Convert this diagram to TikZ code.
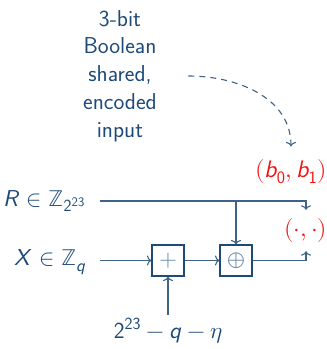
\documentclass[tikz,border=0pt]{standalone}
\usepackage{amsmath}
\usepackage{fontspec}
\usepackage{unicode-math}
\setmathfont{Latin Modern Math}
\usetikzlibrary{arrows.meta,calc}
\DeclareMathSizes{23}{23}{17}{13}
\DeclareMathSizes{24}{24}{17.5}{13.5}
\definecolor{textblue}{RGB}{29,74,120}
\definecolor{lineblue}{RGB}{62,98,136}
\definecolor{lightblue}{RGB}{105,137,170}
\definecolor{outred}{RGB}{245,20,20}
\newcommand{\sv}[1]{\mathsfit{#1}}
\newcommand{\sd}[1]{\mathsf{#1}}
\tikzset{
  every node/.style={font=\sffamily\fontsize{23}{27.75}\selectfont},
  lbl/.style={text=textblue},
  txtblock/.style={text=textblue, align=center},
  outlbl/.style={text=outred, font=\sffamily\fontsize{24}{28}\selectfont},
  ln/.style={draw=lineblue, line width=1.1pt},
  dashln/.style={draw=lineblue, line width=1.1pt, dash pattern=on 6pt off 5pt},
  opbox/.style={draw=textblue, line width=1.2pt, minimum width=32pt, minimum height=31pt, inner sep=0pt, text=lightblue},
  >={To[length=4.5pt,width=10pt]}
}
\begin{document}
\begin{tikzpicture}[x=1pt,y=-1pt]
\useasboundingbox (0,0) rectangle (327,349);
\node[txtblock] (inp) at (120,76) {3-bit\\Boolean\\shared,\\encoded\\input};
\node[outlbl] (bb) at (291,172) {$(\sv{b}_{\sd{0}},\sv{b}_{\sd{1}})$};
\node[lbl,anchor=base east] (R) at (89,206) {$\sv{R}\in\mathbb{Z}_{\sd{2}^{\sd{23}}}$};
\node[lbl,anchor=base east] (X) at (90,265.5) {$\sv{X}\in\mathbb{Z}_{\sv{q}}$};
\node[opbox] (add) at (168,260.5) {$+$};
\node[opbox] (xor) at (236,260.5) {$\oplus$};
\node[outlbl, minimum height=41pt, inner sep=0pt] (out) at (306,230.5) {$(\cdot,\cdot)$};
\node[lbl,anchor=base] (c) at (168,338) {$\sd{2}^{\sd{23}}-\sv{q}-\eta$};
\coordinate (rs) at ($(R.base east)+(11,-5)$);
\coordinate (xs) at ($(X.east |- add.west)+(10,0)$);
\draw[ln,->] (rs) -| (out.north);
\draw[ln,->] (xor.north |- rs) -- (xor.north);
\draw[ln,->] (xs) -- (add.west);
\draw[ln,->] (add) -- (xor);
\draw[ln,->] (xor.east) -| (out.south);
\draw[ln,->] (c.north) -- (add.south);
\draw[dashln,->] ([xshift=28pt]inp.east) to[out=0,in=90] ([yshift=10pt]bb.north);
\end{tikzpicture}
\end{document}
